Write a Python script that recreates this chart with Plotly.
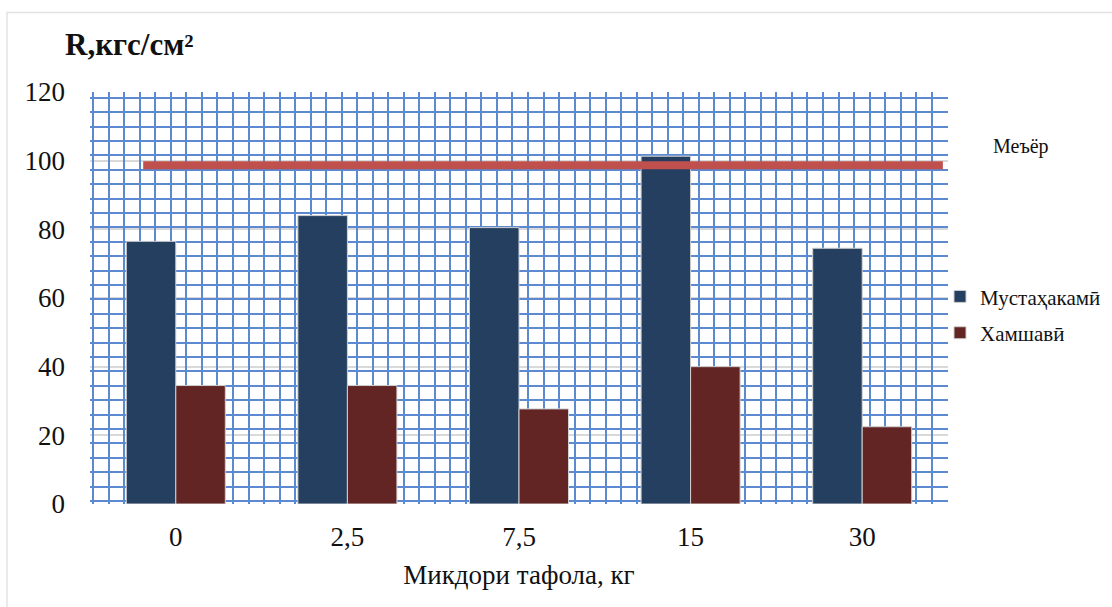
import plotly.graph_objects as go

categories = ["0", "2,5", "7,5", "15", "30"]
strength = [76.5, 84, 80.5, 101.3, 74.5]
shrinkage = [34.5, 34.5, 27.7, 40, 22.5]
norm_value = 98.7
y_ticks = [0, 20, 40, 60, 80, 100, 120]

FONT = "Liberation Serif"
W, H = 1112, 607
L, R, T, B = 90, 164, 92, 103

fig = go.Figure()
fig.add_trace(go.Bar(x=categories, y=strength, name="Мустаҳакамӣ", legendgroup="a",
                     marker=dict(color="#243f60", line=dict(color="#d0d0d0", width=1))))
fig.add_trace(go.Bar(x=categories, y=shrinkage, name="Хамшавӣ", legendgroup="b",
                     marker=dict(color="#632523", line=dict(color="#d0d0d0", width=1))))

# invisible trace to host the blue "graph paper" grid axes
fig.add_trace(go.Scatter(x=[0], y=[0], xaxis="x2", yaxis="y2", mode="markers",
                         marker=dict(opacity=0), showlegend=False, hoverinfo="skip"))

fig.update_layout(
    width=W, height=H,
    margin=dict(l=L, r=R, t=T, b=B, autoexpand=False),
    paper_bgcolor="white", plot_bgcolor="white",
    font=dict(family=FONT, color="#111111"),
    barmode="group", bargap=0.423, bargroupgap=0,
    xaxis=dict(type="category", showgrid=False, zeroline=False, showline=False,
               tickfont=dict(size=27, family=FONT), ticks="", ticklabelstandoff=14,
               title=dict(text="Микдори тафола, кг", font=dict(size=27, family=FONT), standoff=14)),
    yaxis=dict(range=[0, 120], tickvals=y_ticks, showgrid=True, gridcolor="#d9d9d9", gridwidth=2,
               zeroline=False, showline=False, tickfont=dict(size=27, family=FONT), ticks="",
               ticklabelstandoff=24),
    xaxis2=dict(overlaying="x", range=[-0.21, 55.05], dtick=1, tick0=0, showgrid=True,
                gridcolor="#5b8ad0", gridwidth=2.2, showticklabels=False, zeroline=False,
                showline=False, ticks=""),
    yaxis2=dict(overlaying="y", range=[-0.21, 28.4], dtick=1, tick0=0, showgrid=True,
                gridcolor="#5b8ad0", gridwidth=2.2, showticklabels=False, zeroline=False,
                showline=False, ticks=""),
    legend=dict(x=(940 - 90) / 858, y=(504 - 315) / 411.5, xanchor="left", yanchor="middle",
                font=dict(size=21, family=FONT), bgcolor="rgba(0,0,0,0)",
                tracegroupgap=6, itemwidth=30),
)

# norm line
fig.add_shape(type="line", xref="paper", yref="y", x0=0.062, x1=0.994,
              y0=norm_value, y1=norm_value, line=dict(color="#c0504d", width=8), layer="above")

fig.add_annotation(text="Меъёр", xref="paper", yref="paper", x=(991 - 90) / 858, y=(504 - 147) / 411.5,
                   xanchor="left", yanchor="middle", showarrow=False,
                   font=dict(size=20, family=FONT, color="#111111"))
fig.add_annotation(text="<b>R,кгс/см²</b>", xref="paper", yref="paper", x=(63 - 90) / 858,
                   y=(504 - 45) / 411.5, xanchor="left", yanchor="middle", showarrow=False,
                   font=dict(size=31, family=FONT, color="#111111"))

# outer light frame
fig.add_shape(type="rect", xref="paper", yref="paper", x0=(7 - 90) / 858, x1=(1125 - 90) / 858,
              y0=(504 - 625) / 411.5, y1=(504 - 13) / 411.5,
              line=dict(color="#e3e3e3", width=1.5), layer="below")

fig.write_html("out.html")
